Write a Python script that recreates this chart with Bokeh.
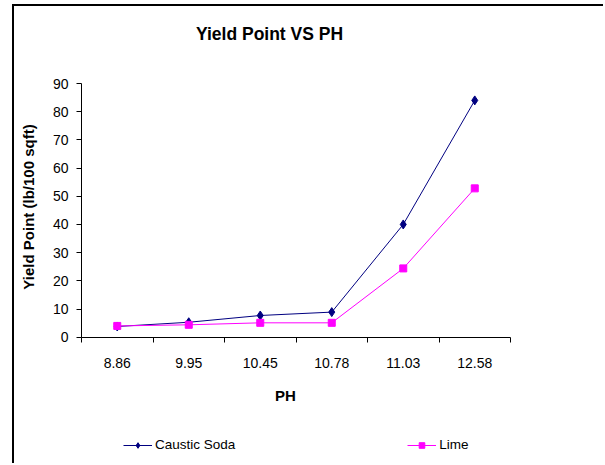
import math
from bokeh.plotting import figure
from bokeh.models import (Range1d, FixedTicker, Label, Legend, LegendItem,
                          ColumnDataSource)
from bokeh.embed import file_html
from bokeh.resources import INLINE

# ---- data ----
ph_labels = ["8.86", "9.95", "10.45", "10.78", "11.03", "12.58"]
caustic_soda = [3.8, 5.3, 7.7, 8.9, 40.0, 84.0]
lime = [4.0, 4.4, 5.1, 5.1, 24.4, 52.8]
y_ticks = [0, 10, 20, 30, 40, 50, 60, 70, 80, 90]

FONT = "Liberation Sans"
n = len(ph_labels)
xs = [i + 0.5 for i in range(n)]
src = ColumnDataSource(dict(x=xs, cs=caustic_soda, lime=lime))

# canvas starts at page (14, 6); plot area spans page x 81..510, y 83..336.7
W, H = 591, 459
px_x = (510 - 81) / n
px_y = (336.7 - 83) / 90.0
x_rng = Range1d((14 - 81) / px_x, n + (605 - 510) / px_x)
y_rng = Range1d(-(465 - 336.7) / px_y, 90 + (83 - 6) / px_y)

p = figure(width=W, height=H, output_backend="svg", toolbar_location=None,
           x_range=x_rng, y_range=y_rng, title=None, min_border=0)
p.styles = {"border-left": "2px solid black", "border-top": "2px solid black",
            "margin-left": "12px", "margin-top": "4px"}
p.outline_line_color = None
p.grid.visible = False
p.background_fill_color = "white"
p.border_fill_color = "white"

# x axis: labels at category centres, tick marks at boundaries
p.xaxis.fixed_location = 0
p.xaxis.bounds = (0, n)
p.xaxis.ticker = FixedTicker(ticks=xs, minor_ticks=list(range(n + 1)))
p.xaxis.major_label_overrides = {x: lab for x, lab in zip(xs, ph_labels)}
p.xaxis.major_tick_out = 0
p.xaxis.major_tick_in = 0
p.xaxis.minor_tick_out = 5
p.xaxis.minor_tick_in = 0
p.xaxis.minor_tick_line_color = "black"
p.xaxis.major_label_standoff = 16

p.yaxis.fixed_location = 0
p.yaxis.bounds = (0, 90)
p.yaxis.ticker = FixedTicker(ticks=y_ticks)
p.yaxis.major_tick_out = 5
p.yaxis.major_tick_in = 0
p.yaxis.minor_tick_line_color = None
p.yaxis.major_label_standoff = 8

for ax in (p.xaxis, p.yaxis):
    ax.axis_line_color = "black"
    ax.major_tick_line_color = "black"
    ax.major_label_text_font = FONT
    ax.major_label_text_font_size = "14px"
    ax.major_label_text_color = "black"

# series
cs_line = p.line("x", "cs", source=src, line_color="#000080", line_width=1)
cs_pts = p.scatter("x", "cs", source=src, marker="diamond", size=9,
                   fill_color="#000080", line_color="#000080")
li_line = p.line("x", "lime", source=src, line_color="#FF00FF", line_width=1)
li_pts = p.scatter("x", "lime", source=src, marker="square", size=7,
                   fill_color="#FF00FF", line_color="#FF00FF")

# texts (screen units: origin at canvas bottom-left = page (14, 465))
def sx(X):
    return X - 14

def sy(Y):
    return 465 - Y

p.add_layout(Label(x=sx(269), y=sy(33), x_units="screen", y_units="screen",
                   text="Yield Point VS PH", text_font=FONT, text_font_style="bold",
                   text_font_size="17.5px", text_color="black",
                   text_align="center", text_baseline="middle"))
p.add_layout(Label(x=sx(27.5), y=sy(206.5), x_units="screen", y_units="screen",
                   text="Yield Point (lb/100 sqft)", text_font=FONT, text_font_style="bold",
                   text_font_size="15px", text_color="black",
                   text_align="center", text_baseline="middle", angle=math.pi / 2))
p.add_layout(Label(x=sx(285), y=sy(395), x_units="screen", y_units="screen",
                   text="PH", text_font=FONT, text_font_style="bold",
                   text_font_size="15px", text_color="black",
                   text_align="center", text_baseline="middle"))

legend = Legend(items=[LegendItem(label="Caustic Soda", renderers=[cs_line, cs_pts]),
                       LegendItem(label="Lime", renderers=[li_line, li_pts])],
                location=(sx(123), sy(452)), orientation="horizontal", padding=0,
                margin=0, spacing=172, glyph_width=29, glyph_height=14,
                label_height=14, label_standoff=3, label_text_font=FONT,
                label_text_font_size="13.5px", label_text_color="black",
                border_line_alpha=0, background_fill_alpha=0)
p.add_layout(legend)

open("out.html", "w").write(file_html(p, INLINE))
